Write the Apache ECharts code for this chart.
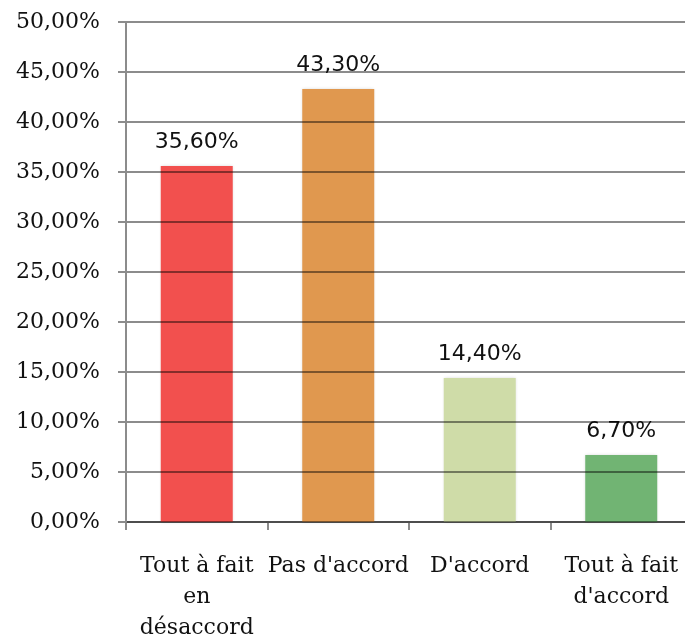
<!DOCTYPE html>
<html>
<head>
<meta charset="utf-8">
<script src="https://cdn.jsdelivr.net/npm/echarts@6/dist/echarts.min.js"></script>
<style>
  html, body { margin: 0; padding: 0; background: #fff; }
  #chart { width: 685px; height: 639px; }
</style>
</head>
<body>
<div id="chart"></div>
<script>
// Survey answers and their shares (percent)
const categories = ["Tout à fait\nen\ndésaccord", "Pas d'accord", "D'accord", "Tout à fait\nd'accord"];
const shares = [35.6, 43.3, 14.4, 6.7];
const barColors = ["#F2504E", "#E0984F", "#CFDCA8", "#71B473"];
const yTicks = { min: 0, max: 50, step: 5 };

const fmt = v => v.toFixed(2).replace('.', ',') + '%';
const serif = "'DejaVu Serif', 'Liberation Serif', serif";
const sans = "'DejaVu Sans', 'Noto Sans', sans-serif";

const chart = echarts.init(document.getElementById('chart'), null, { renderer: 'canvas' });
chart.setOption({
  animation: false,
  grid: { left: 126, right: -7, top: 22, bottom: 117, containLabel: false, outerBoundsMode: 'none' },
  xAxis: {
    type: 'category',
    data: categories,
    axisLine: { lineStyle: { color: '#8c8c8c', width: 2 } },
    axisTick: { show: true, length: 8, lineStyle: { color: '#8c8c8c', width: 2 } },
    axisLabel: {
      interval: 0,
      margin: 29,
      color: '#111',
      fontFamily: serif,
      fontSize: 22,
      lineHeight: 31
    }
  },
  yAxis: {
    type: 'value',
    min: yTicks.min,
    max: yTicks.max,
    interval: yTicks.step,
    z: 5,
    axisLine: { show: true, lineStyle: { color: '#8c8c8c', width: 2 } },
    axisTick: { show: true, length: 8, lineStyle: { color: '#8c8c8c', width: 2 } },
    splitLine: { show: true, lineStyle: { color: 'rgba(0,0,0,0.45)', width: 2 } },
    axisLabel: {
      margin: 26,
      color: '#111',
      fontFamily: serif,
      fontSize: 22,
      formatter: fmt
    }
  },
  series: [{
    type: 'bar',
    data: shares.map((v, i) => ({ value: v, itemStyle: { color: barColors[i] } })),
    barWidth: 72,
    itemStyle: {
      shadowBlur: 3,
      shadowColor: 'rgba(0,0,0,0.15)'
    },
    label: {
      show: true,
      position: 'top',
      distance: 13,
      color: '#111',
      fontFamily: sans,
      fontSize: 22,
      formatter: p => fmt(p.value)
    }
  }]
});
</script>
</body>
</html>
